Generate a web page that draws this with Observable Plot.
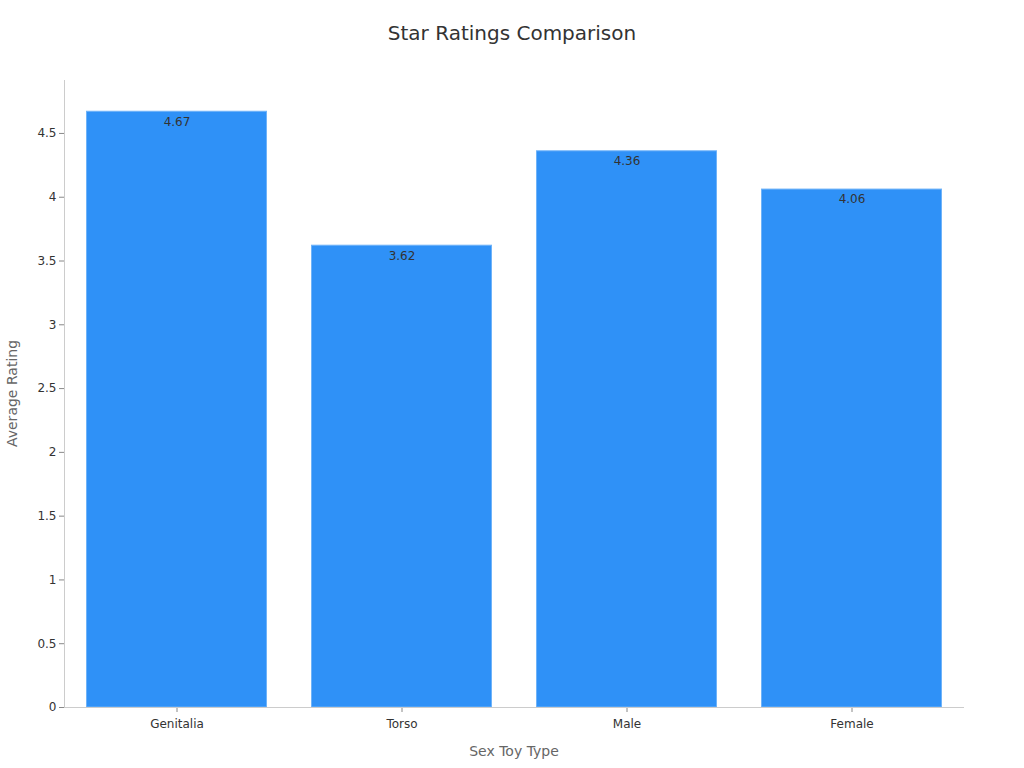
<!DOCTYPE html>
<html><head><meta charset="utf-8">
<script src="https://cdn.jsdelivr.net/npm/d3@7"></script>
<script src="https://cdn.jsdelivr.net/npm/@observablehq/plot@0.6"></script>
<style>
body{margin:0;background:#fff;font-family:"DejaVu Sans",sans-serif;}
#title{height:60px;line-height:66px;text-align:center;font-size:20px;color:#333;}
</style></head>
<body>
<div id="title">Star Ratings Comparison</div>
<div id="chart"></div>
<script>
const categories = ["Genitalia", "Torso", "Male", "Female"];
const ratings = [4.67, 3.62, 4.36, 4.06];
const yTicks = [0, 0.5, 1, 1.5, 2, 2.5, 3, 3.5, 4, 4.5];
const data = categories.map((c, i) => ({type: c, rating: ratings[i]}));
const yMax = 4.915;

const chart = Plot.plot({
  width: 1024,
  height: 708,
  marginTop: 20,
  marginBottom: 61,
  marginLeft: 64,
  marginRight: 60,
  style: {fontFamily: "DejaVu Sans, sans-serif", fontSize: "12px", color: "#333", background: "#fff"},
  x: {domain: categories, paddingInner: 0.2, paddingOuter: 0.1, round: false, label: null},
  y: {domain: [0, yMax], label: null},
  marks: [
    Plot.barY(data, {x: "type", y: "rating", fill: "#2f91f7", stroke: "#6fb3f9", strokeWidth: 1}),
    Plot.text(data, {x: "type", y: "rating", text: d => d.rating.toFixed(2), dy: 10, fill: "#333", fontSize: 12}),
    Plot.axisY({ticks: yTicks, tickFormat: d => String(d), tickSize: 5, stroke: "#888", fill: "#333", fontSize: 12, label: null, tickPadding: 3}),
    Plot.axisX({tickSize: 5, stroke: "#888", fill: "#333", fontSize: 12, label: null, tickPadding: 7}),
    Plot.ruleY([0], {stroke: "#ccc"}),
    Plot.frame({anchor: "left", stroke: "#ccc"})
  ]
});
document.getElementById("chart").appendChild(chart);

// axis labels
const svg = d3.select(chart);
svg.append("text").attr("x", 64 + (1024 - 64 - 60) / 2).attr("y", 708 - 12)
  .attr("text-anchor", "middle").attr("fill", "#666").style("font-size", "14px").text("Sex Toy Type");
svg.append("text").attr("transform", `translate(17,${20 + (708 - 20 - 61) / 2}) rotate(-90)`)
  .attr("text-anchor", "middle").attr("fill", "#666").style("font-size", "14px").text("Average Rating");
</script>
</body></html>
